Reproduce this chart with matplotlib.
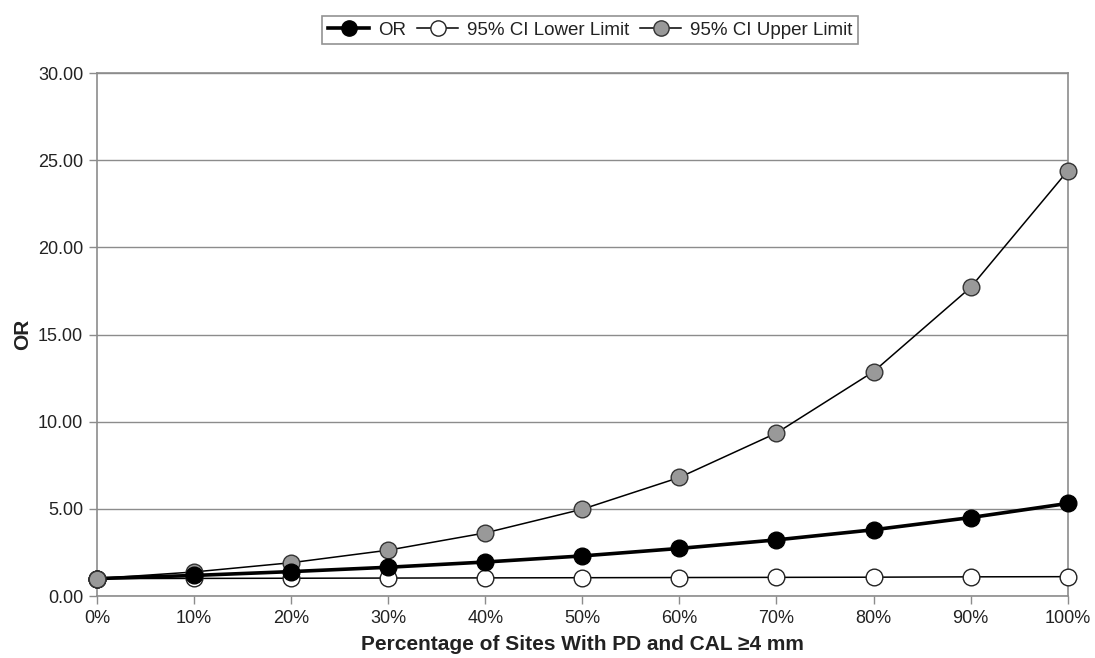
#!/usr/bin/env python3
"""OR with 95% CI by percentage of sites with PD and CAL >=4 mm."""

import matplotlib
matplotlib.use('Agg')
import matplotlib.pyplot as plt

plt.rcParams['font.family'] = ['Liberation Sans', 'DejaVu Sans']

# Data
pct_sites = [0, 10, 20, 30, 40, 50, 60, 70, 80, 90, 100]
odds_ratio = [1.00, 1.18, 1.40, 1.65, 1.95, 2.30, 2.73, 3.22, 3.80, 4.50, 5.31]
ci_lower = [1.00, 1.01, 1.02, 1.03, 1.04, 1.05, 1.06, 1.07, 1.08, 1.10, 1.11]
ci_upper = [1.00, 1.38, 1.91, 2.63, 3.62, 4.98, 6.80, 9.35, 12.87, 17.70, 24.38]
y_ticks = [0, 5, 10, 15, 20, 25, 30]

TEXT = '#222222'
GRID = '#8c8c8c'

fig = plt.figure(figsize=(10.95, 6.58), dpi=100)
ax = fig.add_axes([0.0886, 0.0942, 0.8864, 0.7948])

# upper limit first so OR line sits on top
ax.plot(pct_sites, ci_upper, color='black', lw=1.1, marker='o', ms=12,
        mfc='#999999', mec='#333333', mew=1.0, zorder=3, clip_on=False,
        label='95% CI Upper Limit')
ax.plot(pct_sites, ci_lower, color='black', lw=1.1, marker='o', ms=12,
        mfc='white', mec='#222222', mew=1.0, zorder=4, clip_on=False,
        label='95% CI Lower Limit')
ax.plot(pct_sites, odds_ratio, color='black', lw=2.6, marker='o', ms=12,
        mfc='black', mec='black', mew=1.0, zorder=5, clip_on=False,
        label='OR')
# redraw the upper limit start marker on top, as in the reference
ax.plot(pct_sites[:1], ci_upper[:1], ls='none', marker='o', ms=12,
        mfc='#999999', mec='#333333', mew=1.0, zorder=6, clip_on=False)

ax.set_xlim(0, 100)
ax.set_ylim(0, 30)
ax.set_xticks(pct_sites)
ax.set_xticklabels([f'{p}%' for p in pct_sites])
ax.set_yticks(y_ticks)
ax.set_yticklabels([f'{v:.2f}' for v in y_ticks])

ax.yaxis.grid(True, color=GRID, lw=1.0)
ax.set_axisbelow(True)
for sp in ax.spines.values():
    sp.set_color(GRID)
    sp.set_linewidth(1.2)

ax.tick_params(axis='both', direction='out', length=6, width=1.0,
               color=GRID, labelsize=13, labelcolor=TEXT, pad=4)

ax.set_xlabel('Percentage of Sites With PD and CAL \u22654 mm', fontsize=15,
              fontweight='bold', color=TEXT, labelpad=6)
ax.set_ylabel('OR', fontsize=15, fontweight='bold', color=TEXT, labelpad=4)

handles, labels = ax.get_legend_handles_labels()
order = [2, 1, 0]
leg = fig.legend([handles[i] for i in order], [labels[i] for i in order],
                 loc='upper center', bbox_to_anchor=(0.539, 0.99), ncol=3,
                 fontsize=13.5, frameon=True, fancybox=False, handlelength=2.2,
                 handletextpad=0.45, columnspacing=0.6, borderpad=0.3)
leg.get_frame().set_edgecolor('#777777')
leg.get_frame().set_linewidth(1.2)
for t in leg.get_texts():
    t.set_color(TEXT)
for h in leg.legend_handles:
    h.set_markersize(11)

fig.savefig('out.png', dpi=100, facecolor='white')
